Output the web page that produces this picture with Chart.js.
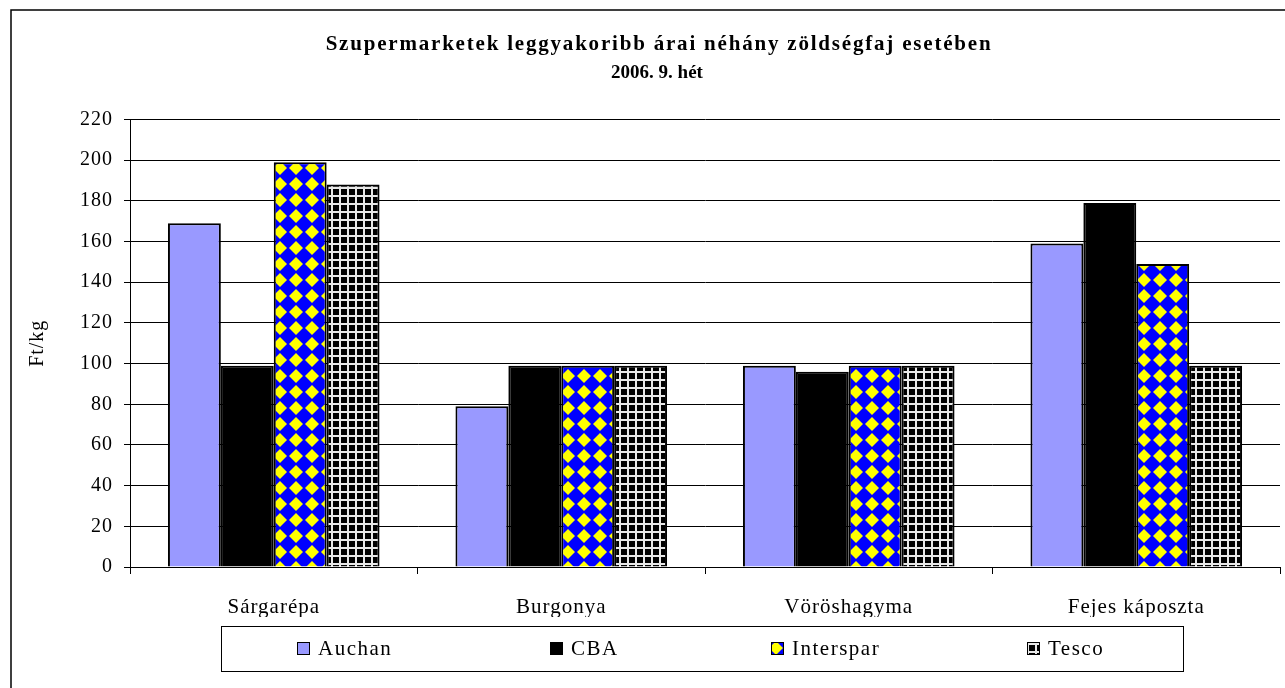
<!doctype html>
<html>
<head>
<meta charset="utf-8">
<script src="https://cdn.jsdelivr.net/npm/chart.js"></script>
<style>
  body { margin: 0px; background: #ffffff; }
  #wrap { width: 1285px; height: 688px; }
</style>
</head>
<body>
<div id="wrap"><canvas id="chart" width="1285" height="688"></canvas></div>
<script>
// data
const categories = ['Sárgarépa', 'Burgonya', 'Vöröshagyma', 'Fejes káposzta'];
const auchan = [169, 79, 99, 159];
const cba = [99, 99, 96, 179];
const interspar = [199, 99, 99, 149];
const tesco = [188, 99, 99, 99];
const seriesNames = ['Auchan', 'CBA', 'Interspar', 'Tesco'];
const yMin = 0, yMax = 220, yStep = 20;
const titleLines = ['Szupermarketek leggyakoribb árai néhány zöldségfaj esetében', '2006. 9. hét'];
const yTitle = 'Ft/kg';

const serif = "'Liberation Serif', 'Times New Roman', serif";
const canvas = document.getElementById('chart');
const ctx = canvas.getContext('2d');

// blue with yellow diamonds
function diamondPattern() {
    const c = document.createElement('canvas');
    c.width = 16; c.height = 16;
    const g = c.getContext('2d');
    g.fillStyle = '#0000ff';
    g.fillRect(0, 0, 16, 16);
    g.fillStyle = '#ffff00';
    g.beginPath();
    g.moveTo(8, 1); g.lineTo(15, 8); g.lineTo(8, 15); g.lineTo(1, 8);
    g.closePath();
    g.fill();
    return ctx.createPattern(c, 'repeat');
}

// black with white grid
function gridPattern() {
    const c = document.createElement('canvas');
    c.width = 8; c.height = 8;
    const g = c.getContext('2d');
    g.fillStyle = '#000000';
    g.fillRect(0, 0, 8, 8);
    g.fillStyle = '#e8e8e8';
    g.fillRect(3, 0, 2, 8);
    g.fillRect(0, 3, 8, 2);
    return ctx.createPattern(c, 'repeat');
}

const fills = ['#9999ff', '#000000', diamondPattern(), gridPattern()];

const frame = {
    id: 'frame',
    beforeUpdate(chart) { chart.ctx.letterSpacing = '1px'; },
    beforeDraw(chart) {
        const c = chart.ctx;
        c.save();
        c.fillStyle = '#ffffff';
        c.fillRect(0, 0, chart.width, chart.height);
        c.strokeStyle = '#000000';
        c.lineWidth = 1.5;
        c.strokeRect(11, 10, 1400, 800);
        c.restore();
        c.letterSpacing = '1px';
    },
    afterDraw(chart) {
        // two title lines, spaced differently like the original
        const c = chart.ctx;
        c.save();
        c.fillStyle = '#000000';
        c.textAlign = 'center';
        c.textBaseline = 'middle';
        c.font = 'bold 21px ' + serif;
        c.letterSpacing = '1.8px';
        c.fillText(titleLines[0], 659, 45);
        c.font = 'bold 19px ' + serif;
        c.letterSpacing = '0px';
        c.fillText(titleLines[1], 657, 73);
        c.restore();
    }
};

const legendBox = {
    id: 'legendBox',
    afterDraw(chart) {
        const c = chart.ctx;
        const x0 = 221, y0 = 626, w = 962, h = 45;
        c.save();
        c.strokeStyle = '#000000';
        c.lineWidth = 1;
        c.strokeRect(x0 + 0.5, y0 + 0.5, w, h);
        c.font = '21px ' + serif;
        c.letterSpacing = '1.5px';
        c.textBaseline = 'middle';
        c.textAlign = 'left';
        const col = w / seriesNames.length;
        seriesNames.forEach((name, i) => {
            const tw = c.measureText(name).width;
            const itemW = 13 + 8 + tw;
            const sx = Math.round(x0 + col * i + (col - itemW) / 2) + 3;
            const my = y0 + 16;
            c.fillStyle = fills[i];
            c.fillRect(sx, my, 13, 13);
            c.strokeStyle = '#000000';
            c.lineWidth = 1;
            c.strokeRect(sx + 0.5, my + 0.5, 12, 12);
            c.fillStyle = '#000000';
            c.fillText(name, sx + 21, y0 + 23);
        });
        c.restore();
    }
};

const datasets = [auchan, cba, interspar, tesco].map((vals, i) => ({
    label: seriesNames[i],
    data: vals,
    backgroundColor: fills[i],
    borderColor: '#000000',
    borderWidth: 2,
    categoryPercentage: 0.736,
    barPercentage: 1.0
}));

new Chart(canvas, {
    type: 'bar',
    data: { labels: categories, datasets: datasets },
    plugins: [frame, legendBox],
    options: {
        responsive: false,
        animation: false,
        layout: { padding: { left: 11, right: 5, top: 119.5, bottom: 71 } },
        plugins: {
            legend: { display: false },
            tooltip: { enabled: false },
            title: { display: false }
        },
        scales: {
            x: {
                offset: true,
                grid: { display: true, drawOnChartArea: false, drawTicks: true, tickLength: 7, color: '#000000', offset: true },
                border: { display: true, color: '#000000', width: 1 },
                ticks: { color: '#000000', font: { family: serif, size: 21 }, padding: 21, maxRotation: 0 },
                afterFit(s) { s.height = 50; }
            },
            y: {
                min: yMin,
                max: yMax,
                ticks: { stepSize: yStep, color: '#000000', font: { family: serif, size: 20 }, padding: 11 },
                grid: { color: '#000000', tickLength: 6, drawTicks: true },
                border: { display: true, color: '#000000', width: 1 },
                title: {
                    display: true,
                    text: yTitle,
                    color: '#000000',
                    font: { family: serif, size: 20 },
                    padding: { top: 15, bottom: 0 }
                },
                afterFit(s) { s.width = 119; }
            }
        }
    }
});
</script>
</body>
</html>
